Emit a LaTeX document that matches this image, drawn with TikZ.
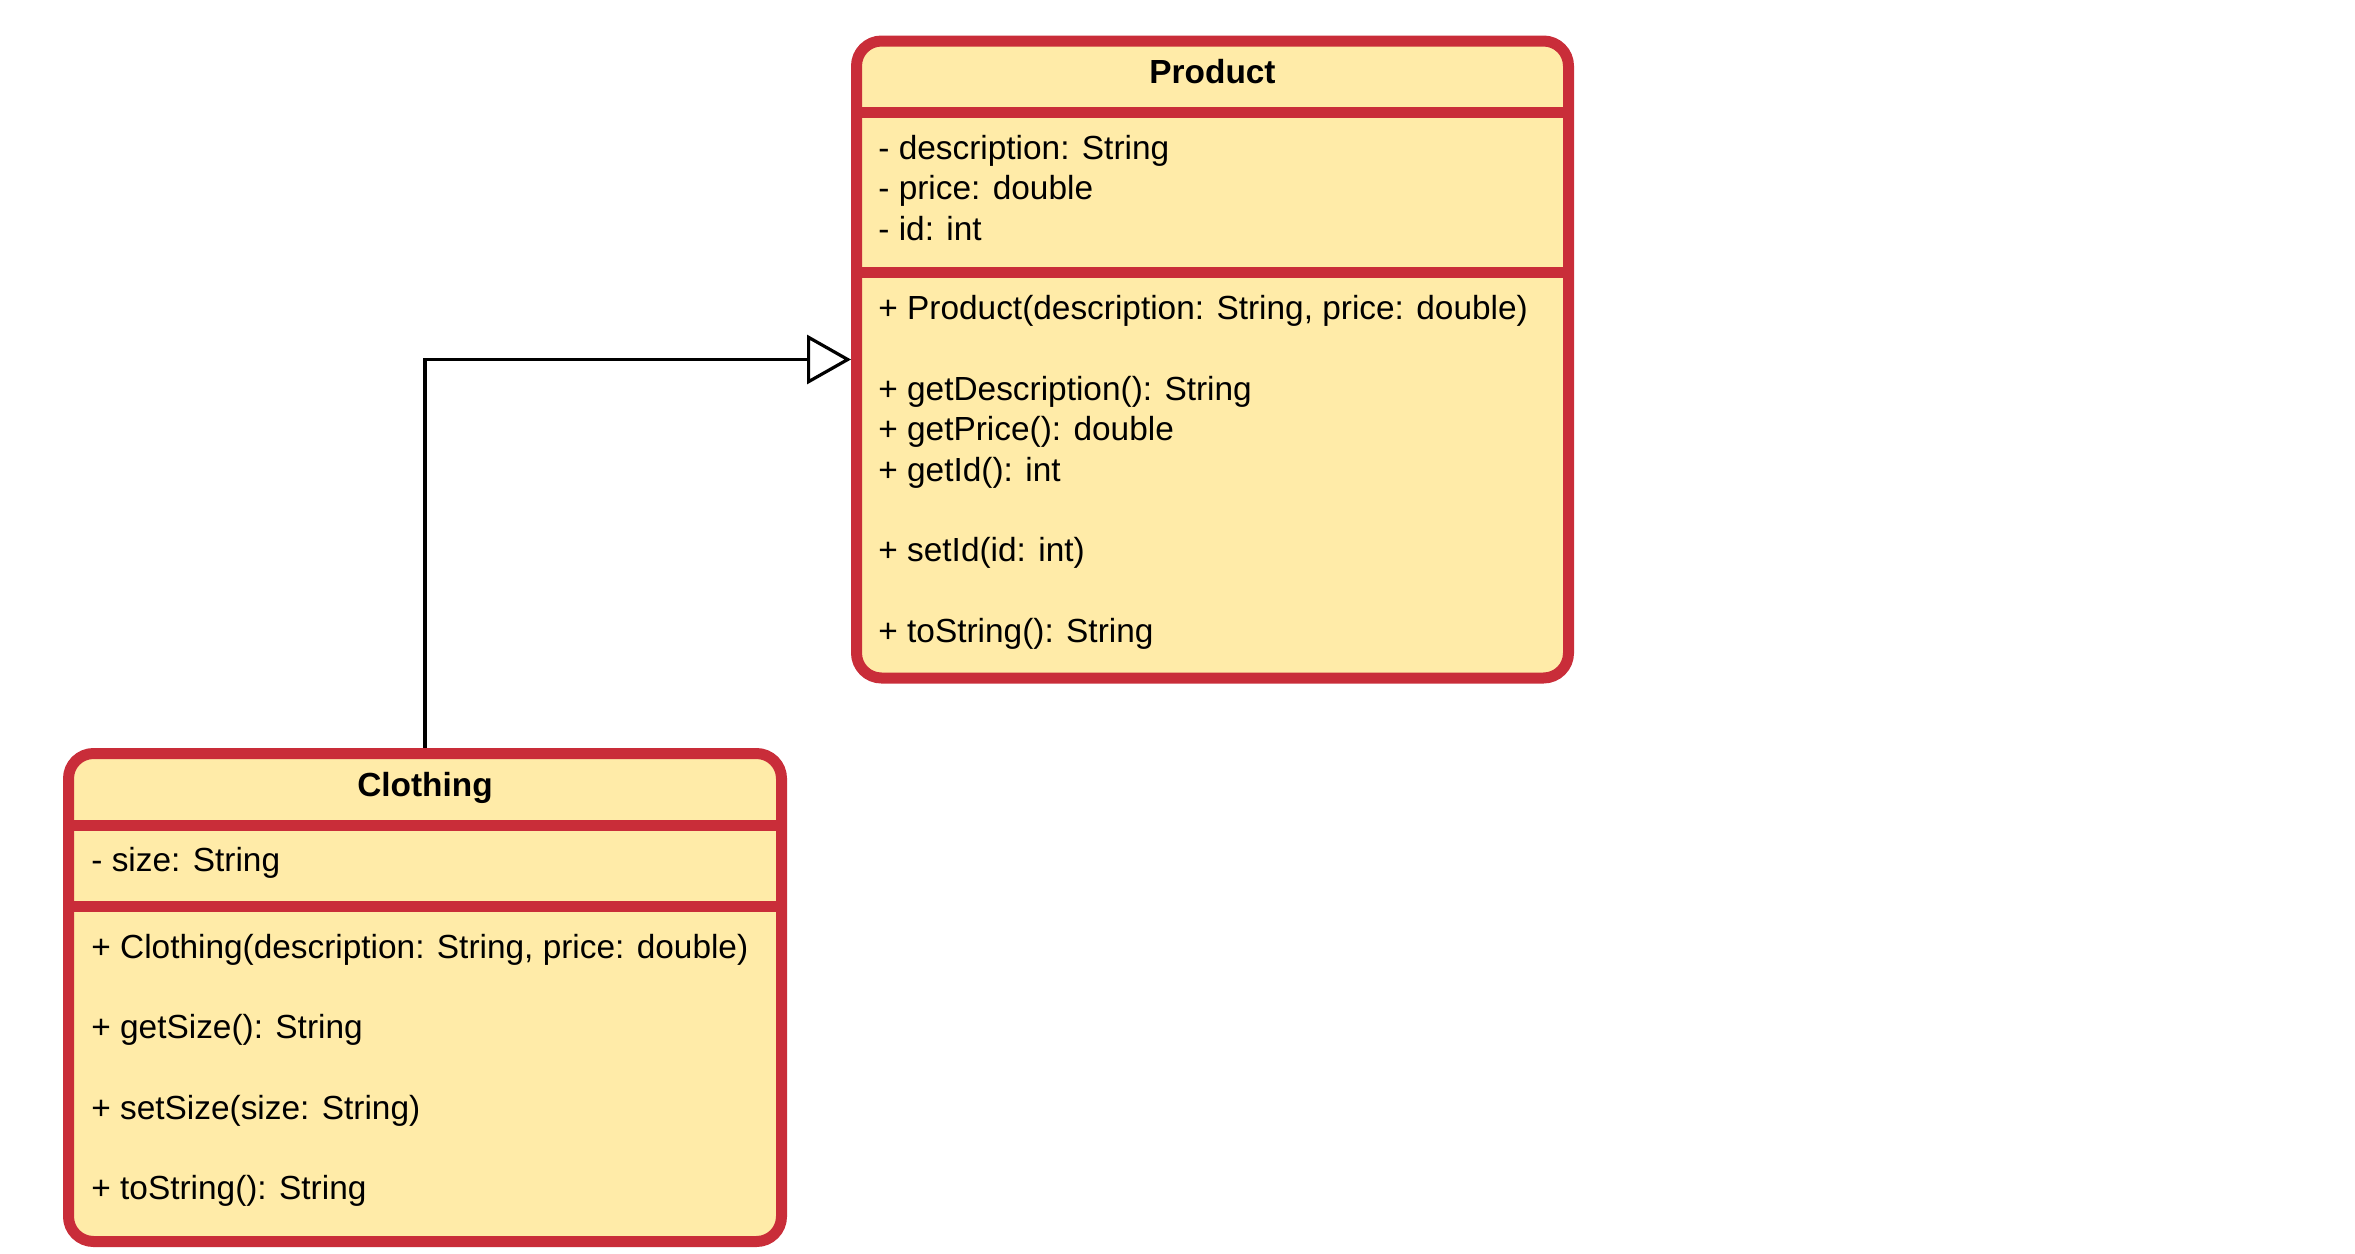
\documentclass[tikz,border=0pt]{standalone}
\usepackage{fontspec}
\setmainfont{Liberation Sans}
\usetikzlibrary{arrows.meta}
\definecolor{umlred}{HTML}{C92D39}
\definecolor{umlfill}{HTML}{FFEBA8}
\begin{document}
\begin{tikzpicture}[x=0.5pt,y=-0.5pt,
  classbox/.style={rectangle, draw=umlred, fill=umlfill, line width=5.5pt, rounded corners=12.5pt, inner sep=0pt},
  divider/.style={draw=umlred, line width=5.5pt},
  member/.style={anchor=base west, inner sep=0pt, font=\fontsize{16.7}{20}\selectfont},
  classtitle/.style={anchor=base, inner sep=0pt, font=\fontsize{16.7}{20}\selectfont\bfseries},
  inherit/.style={draw=black, line width=1.6pt, -{Triangle[open, length=22pt, width=24.5pt, fill=white]}}
]
\useasboundingbox (0,0) rectangle (2355,1253);
% Product
\node[classbox, minimum width=356pt, minimum height=318.5pt] (product) at (1212.5,359.5) {};
\draw[divider] (856.5,112.5) -- (1568.5,112.5);
\draw[divider] (856.5,272.5) -- (1568.5,272.5);
\node[classtitle] (ptitle) at (1212.5,83) {Product};
\node[member] (pa1) at (878,159) {- description: String};
\node[member] (pa2) at (878,199.5) {- price: double};
\node[member] (pa3) at (878,240) {- id: int};
\node[member] (pm1) at (878,319) {+ Product(description: String, price: double)};
\node[member] (pm2) at (878,400) {+ getDescription(): String};
\node[member] (pm3) at (878,440.5) {+ getPrice(): double};
\node[member] (pm4) at (878,481) {+ getId(): int};
\node[member] (pm5) at (878,561.5) {+ setId(id: int)};
\node[member] (pm6) at (878,642) {+ toString(): String};
% Clothing
\node[classbox, minimum width=356.5pt, minimum height=244pt] (clothing) at (425,997.5) {};
\draw[divider] (68.5,825.5) -- (781.5,825.5);
\draw[divider] (68.5,906) -- (781.5,906);
\node[classtitle] (ctitle) at (425,796) {Clothing};
\node[member] (ca1) at (91,871) {- size: String};
\node[member] (cm1) at (91,958) {+ Clothing(description: String, price: double)};
\node[member] (cm2) at (91,1038.5) {+ getSize(): String};
\node[member] (cm3) at (91,1119) {+ setSize(size: String)};
\node[member] (cm4) at (91,1199.5) {+ toString(): String};
% Inheritance
\draw[inherit] (clothing.north) |- (product.west);
\end{tikzpicture}
\end{document}
